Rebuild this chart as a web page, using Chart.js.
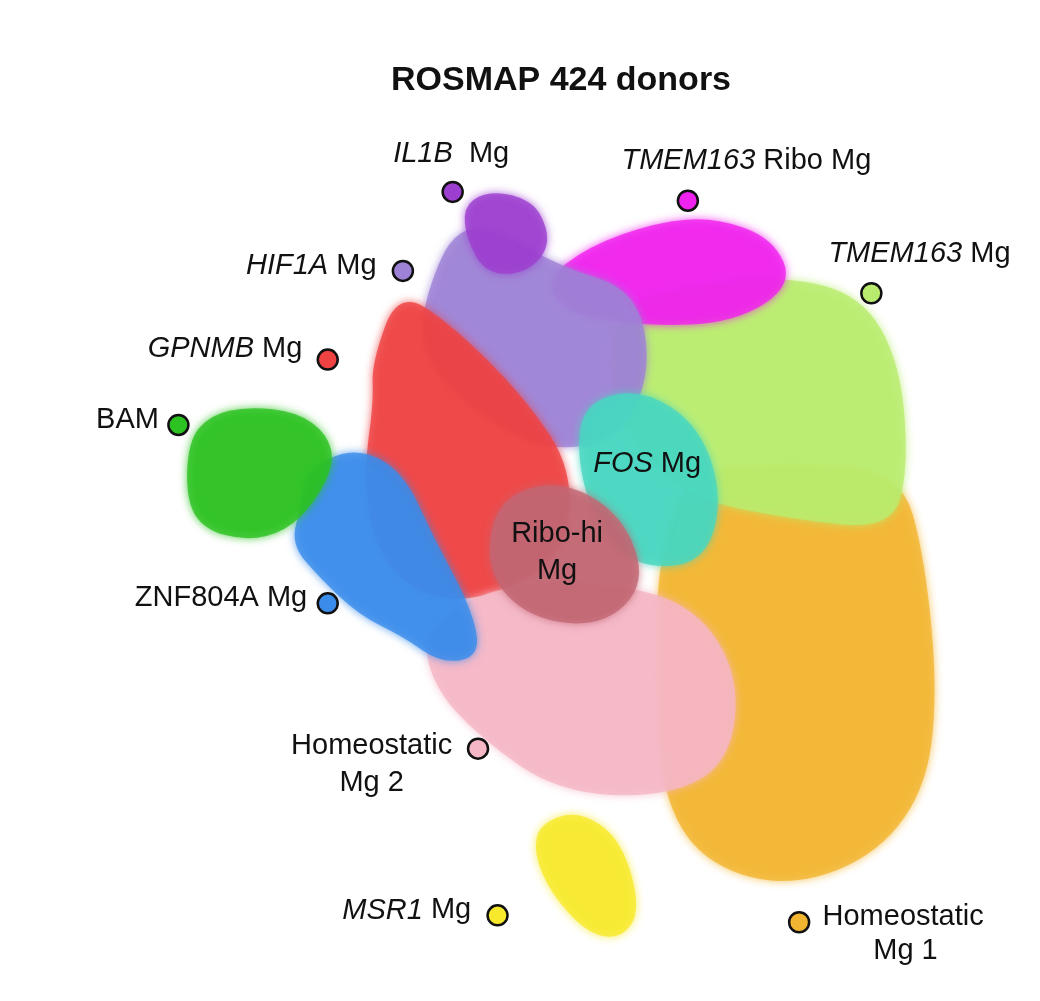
<!DOCTYPE html>
<html>
<head>
<meta charset="utf-8">
<script src="https://cdn.jsdelivr.net/npm/chart.js@4/dist/chart.umd.min.js"></script>
<style>
  html, body { margin: 0; padding: 0; background: #fff; }
  #wrap { width: 1040px; height: 1001px; }
</style>
</head>
<body>
<div id="wrap"><canvas id="umap"></canvas></div>
<script>
// Clusters (outline, UMAP coords in image units)
var clusterNames = ['Homeostatic Mg 1', 'TMEM163 Mg', 'TMEM163 Ribo Mg', 'HIF1A Mg', 'GPNMB Mg', 'Homeostatic Mg 2', 'ZNF804A Mg', 'BAM', 'FOS Mg', 'Ribo-hi Mg', 'IL1B Mg', 'MSR1 Mg'];
var clusterColors = ['#f2b531', '#b9ec6e', '#f022ee', '#9d82d6', '#ef4242', '#f5b7c6', '#3a8ceb', '#2cc221', '#47d7c0', '#c26773', '#9c3ed0', '#f7ea2c'];
var clusterOutlines = [
  [[690,470],[800,460],[910,470],[935,560],[948,700],[935,800],[880,868],[790,898],[705,870],[665,800],[660,690],[660,570]],
  [[620,300],[700,280],[790,270],[870,290],[910,360],[918,470],[900,530],[800,520],[700,500],[640,450],[610,380]],
  [[545,275],[590,240],[660,215],[720,210],[780,232],[800,280],[740,318],[650,322],[570,310]],
  [[420,300],[452,220],[500,225],[560,260],[640,285],[655,370],[620,440],[540,450],[460,400],[420,350]],
  [[368,360],[395,285],[450,320],[525,395],[575,470],[565,560],[480,605],[410,595],[370,545],[360,470],[370,400]],
  [[420,630],[500,585],[620,585],[700,610],[745,680],[735,770],[670,805],[560,800],[480,745],[430,690]],
  [[300,470],[350,445],[400,470],[432,540],[470,610],[480,660],[440,668],[400,640],[355,618],[315,580],[285,545],[296,505]],
  [[180,440],[202,413],[242,404],[292,410],[322,432],[330,462],[310,502],[280,532],[240,542],[196,530],[178,500]],
  [[585,400],[645,385],[705,425],[728,500],[708,565],[642,570],[600,530],[578,460]],
  [[495,500],[560,478],[625,515],[650,585],[605,630],[530,622],[485,575]],
  [[462,200],[482,185],[512,186],[540,200],[552,240],[525,268],[485,268],[465,232]],
  [[540,832],[580,818],[624,848],[644,920],[624,950],[590,945],[552,904],[534,862]]
];

// Legend dots
var dotX = [806, 880, 692, 400, 323, 477, 323, 170, 0, 0, 451, 497];
var dotY = [933, 288, 193, 265, 356, 755, 606, 423, 0, 0, 184, 926];

// Text labels: italic part, plain part, x, y, align
var labelItalic = ['IL1B', 'TMEM163', 'TMEM163', 'HIF1A', 'GPNMB', '', '', '', '', 'MSR1', '', '', 'FOS', '', ''];
var labelPlain = ['  Mg', ' Ribo Mg', ' Mg', ' Mg', ' Mg', 'BAM', 'ZNF804A Mg', 'Homeostatic', 'Mg 2', ' Mg', 'Homeostatic', 'Mg 1', ' Mg', 'Ribo-hi', 'Mg'];
var labelX = [390, 624, 836, 373, 297, 150, 302, 368, 368, 470, 830, 915, 595, 558, 558];
var labelY = [150, 157, 253, 265, 350, 423, 606, 757, 795, 926, 933, 968, 468, 540, 578];
var labelAlign = ['left', 'left', 'left', 'right', 'right', 'right', 'right', 'center', 'center', 'right', 'left', 'center', 'left', 'center', 'center'];

var FONT = '"Liberation Sans", Arial, sans-serif';
var FS = 29;

var clusterPlugin = {
  id: 'clusters',
  beforeDatasetsDraw: function (chart) {
    var c = chart.ctx, xs = chart.scales.x, ys = chart.scales.y;
    c.save();
    clusterOutlines.forEach(function (pts, i) {
      var p = pts.map(function (q) { return [xs.getPixelForValue(q[0]), ys.getPixelForValue(q[1])]; });
      c.beginPath();
      var n = p.length;
      c.moveTo((p[n - 1][0] + p[0][0]) / 2, (p[n - 1][1] + p[0][1]) / 2);
      for (var k = 0; k < n; k++) {
        var nx = p[(k + 1) % n];
        c.quadraticCurveTo(p[k][0], p[k][1], (p[k][0] + nx[0]) / 2, (p[k][1] + nx[1]) / 2);
      }
      c.closePath();
      c.globalAlpha = 0.8;
      c.fillStyle = clusterColors[i];
      c.shadowColor = clusterColors[i];
      c.shadowBlur = 8;
      c.fill();
    });
    c.restore();
  },
  afterDatasetsDraw: function (chart) {
    var c = chart.ctx, xs = chart.scales.x, ys = chart.scales.y;
    c.save();
    c.fillStyle = '#111';
    c.textBaseline = 'middle';
    c.font = 'bold 34px ' + FONT;
    c.textAlign = 'center';
    c.fillText('ROSMAP 424 donors', xs.getPixelForValue(562), ys.getPixelForValue(70));
    for (var i = 0; i < labelPlain.length; i++) {
      c.font = 'italic ' + FS + 'px ' + FONT;
      var wi = c.measureText(labelItalic[i]).width;
      c.font = FS + 'px ' + FONT;
      var wp = c.measureText(labelPlain[i]).width;
      var x = xs.getPixelForValue(labelX[i]), y = ys.getPixelForValue(labelY[i] - 5);
      var start = labelAlign[i] === 'left' ? x : labelAlign[i] === 'right' ? x - wi - wp : x - (wi + wp) / 2;
      c.textAlign = 'left';
      c.font = 'italic ' + FS + 'px ' + FONT;
      c.fillText(labelItalic[i], start, y);
      c.font = FS + 'px ' + FONT;
      c.fillText(labelPlain[i], start + wi, y);
    }
    c.restore();
  }
};

var dots = [];
for (var i = 0; i < dotX.length; i++) {
  if (dotX[i]) dots.push({ x: dotX[i], y: dotY[i], color: clusterColors[i] });
}

new Chart(document.getElementById('umap'), {
  type: 'scatter',
  data: {
    datasets: [{
      data: dots,
      pointRadius: 10,
      pointBorderWidth: 2.5,
      pointBorderColor: '#111',
      pointBackgroundColor: dots.map(function (d) { return d.color; })
    }]
  },
  options: {
    responsive: true,
    maintainAspectRatio: false,
    animation: false,
    layout: { padding: 0 },
    scales: {
      x: { display: false, min: 0, max: 1040 },
      y: { display: false, min: 0, max: 1001, reverse: true }
    },
    plugins: { legend: { display: false }, tooltip: { enabled: false } }
  },
  plugins: [clusterPlugin]
});
</script>
</body>
</html>
